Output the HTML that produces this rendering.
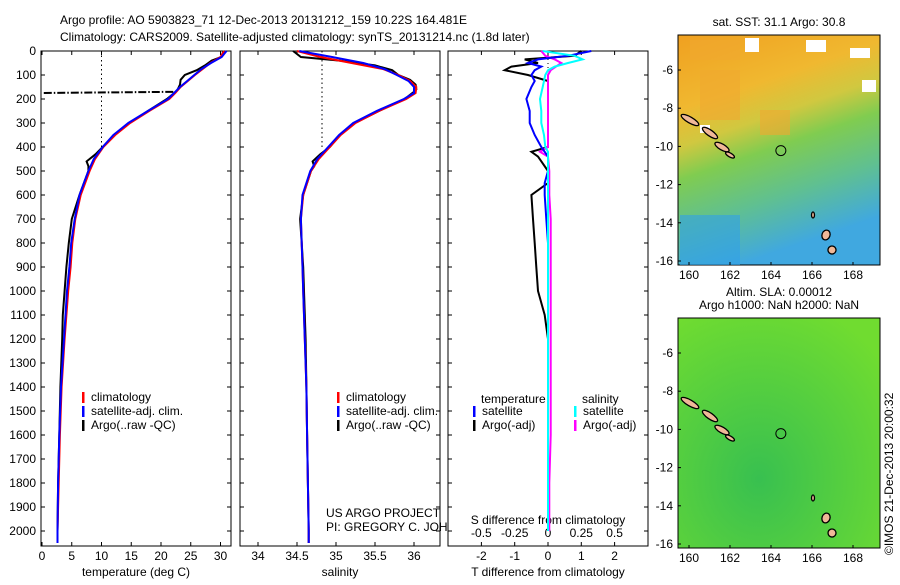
<!DOCTYPE html>
<html><head><meta charset="utf-8"><style>
body{margin:0;background:#fff;width:900px;height:580px;overflow:hidden}
svg text{font-family:"Liberation Sans",sans-serif;font-size:12px;fill:#000}
</style></head><body>
<svg id="fig" width="900" height="580" xmlns="http://www.w3.org/2000/svg">
<defs>
<linearGradient id="sstg" x1="0" y1="0" x2="0.3" y2="1">
<stop offset="0" stop-color="#f0a020"/><stop offset="0.3" stop-color="#f0b830"/><stop offset="0.45" stop-color="#d0c840"/>
<stop offset="0.58" stop-color="#80cc50"/><stop offset="0.78" stop-color="#60c090"/><stop offset="1" stop-color="#40a8e0"/></linearGradient>
<radialGradient id="slag" cx="0.4" cy="0.7" r="0.8"><stop offset="0" stop-color="#38c050"/><stop offset="1" stop-color="#70dc30"/></radialGradient>
</defs>
<text x="60" y="24">Argo profile: AO 5903823_71 12-Dec-2013 20131212_159 10.22S 164.481E</text>
<text x="60" y="41">Climatology: CARS2009. Satellite-adjusted climatology: synTS_20131214.nc (1.8d later)</text>
<g id="p1"></g>
<g id="p2"></g>
<g id="p3"></g>
<g id="maps"></g>
<text x="893" y="555" transform="rotate(-90 893 555)" font-size="11">©IMOS 21-Dec-2013 20:00:32</text>
</svg>
<script>
const NS="http://www.w3.org/2000/svg";
// ---- data ----
const depthClim=[0,25,50,75,100,125,150,175,200,250,300,350,400,450,500,600,700,800,900,1000,1200,1400,1600,1800,2000,2050];
const tempClim=[30.6,30,28.3,27,25.7,24.5,23.3,22.4,21.4,18,14.8,12.3,10.3,8.9,8.0,6.5,5.6,5.1,4.8,4.4,3.8,3.3,3.0,2.8,2.6,2.6];
const tempSat=[31,30.2,28.4,26.8,25.6,24.4,23.2,22.2,21.2,17.8,14.5,12.0,10.2,8.7,7.8,6.3,5.5,4.9,4.6,4.2,3.7,3.2,2.9,2.7,2.6,2.6];
const depthArgo=[0,25,40,60,80,100,120,140,160,170,175,180,200,250,300,350,400,430,460,480,500,600,700,800,900,1000,1100,1200,1400,1600,1800,2000,2050];
const tempArgo=[30.5,30.1,28.5,27.4,26,24,23.3,23.2,22.8,22.5,22.2,22,21,17.8,14.7,12.2,10.2,9,7.5,7.8,7.8,6.3,5,4.5,4.1,3.8,3.5,3.4,3.1,2.9,2.7,2.6,2.6];
const spikeDepth=175, spikeTemp=0.3;
const salClim=[34.5,34.8,35.2,35.6,35.8,35.95,36.03,36.02,35.9,35.55,35.25,35.06,34.92,34.78,34.68,34.58,34.55,34.56,34.57,34.58,34.6,34.62,34.63,34.64,34.65,34.65];
const salSat=[34.53,34.95,35.35,35.62,35.78,35.93,36.0,36.0,35.87,35.52,35.22,35.04,34.9,34.76,34.67,34.57,34.55,34.56,34.57,34.58,34.6,34.62,34.63,34.64,34.65,34.65];
const salArgo=[34.45,34.55,35.05,35.5,35.72,35.8,35.95,36.02,36.03,36.0,35.98,35.96,35.88,35.55,35.24,35.05,34.92,34.8,34.7,34.72,34.68,34.58,34.54,34.56,34.58,34.59,34.6,34.61,34.62,34.63,34.64,34.65,34.65];
const depthDiff=[0,20,35,50,65,80,100,125,150,200,250,300,350,400,420,440,500,550,600,700,800,900,1000,1100,1200,1400,1600,1800,2000];
const tDiffSat=[1.3,0.6,-0.3,-0.6,-0.2,-0.4,-0.5,-0.4,-0.5,-0.65,-0.55,-0.55,-0.4,-0.2,-0.1,0,0,-0.1,-0.1,-0.05,0,0,0,0,0,0,0,0,0];
const tDiffArgo=[1.0,0.8,-0.7,-0.3,-1.1,-1.3,-0.6,0,0,0,0,0,0,0,-0.5,-0.3,0,0,-0.5,-0.45,-0.4,-0.35,-0.3,-0.1,0,0,0,0,0];
const sDiffSat=[-0.04,0.2,0.26,0.15,0.05,0,-0.02,-0.03,-0.04,-0.06,-0.05,-0.05,-0.03,-0.02,0,0,0,0,0,0,0,0,0,0,0,0,0,0,0];
const sDiffArgo=[-0.05,-0.02,0.05,0.1,0.06,0.02,0,0,0,0,0,0,0,0,-0.06,0,0.01,0.01,0.01,0.02,0.02,0.02,0.02,0.02,0.02,0.02,0.02,0.01,0.01];
const depthTicks=[0,100,200,300,400,500,600,700,800,900,1000,1100,1200,1300,1400,1500,1600,1700,1800,1900,2000];
const tempTicks=[0,5,10,15,20,25,30];
const salTicks=[34,34.5,35,35.5,36];
const tDiffTicks=[-2,-1,0,1,2];
const sDiffTicks=[-0.5,-0.25,0,0.25,0.5];
const latTicks=[-6,-8,-10,-12,-14,-16];
const lonTicks=[160,162,164,166,168];
const floatLon=164.481, floatLat=-10.22;
// ---- helpers ----
const Y0=51,Y1=546;
const yD=d=>51+d*0.24;
function el(parent,tag,attrs){const e=document.createElementNS(NS,tag);for(const k in attrs)e.setAttribute(k,attrs[k]);parent.appendChild(e);return e;}
function txt(parent,x,y,s,anchor){const t=el(parent,'text',{x:x,y:y,'text-anchor':anchor||'start'});t.textContent=s;return t;}
function line(parent,xs,ys,xf,color,w,name){
  const pts=xs.map((v,i)=>xf(v).toFixed(1)+','+yD(ys[i]).toFixed(1)).join(' ');
  const p=el(parent,'polyline',{points:pts,fill:'none',stroke:color,'stroke-width':w});
  
  
  return p;}
function frame(g,x0,x1,withDepth){
  const r=el(g,'rect',{x:x0,y:Y0,width:x1-x0,height:Y1-Y0,fill:'#fff',stroke:'#000','stroke-width':1});
  
  
  depthTicks.forEach(d=>{el(g,'line',{x1:x0,x2:x0+4,y1:yD(d),y2:yD(d),stroke:'#000'});el(g,'line',{x1:x1,x2:x1-4,y1:yD(d),y2:yD(d),stroke:'#000'});
    if(withDepth){const t=txt(g,x0-5,yD(d)+4,String(d),'end');}});
}
function xticks(g,ticks,xf,y,labels){ticks.forEach((v,i)=>{el(g,'line',{x1:xf(v),x2:xf(v),y1:Y1,y2:Y1-4,stroke:'#000'});el(g,'line',{x1:xf(v),x2:xf(v),y1:Y0,y2:Y0+4,stroke:'#000'});
  if(labels){const t=txt(g,xf(v),y,labels[i],'middle');}});}
function legend(g,x,y,items){items.forEach((it,i)=>{el(g,'rect',{x:x,y:y+i*14-9,width:2.5,height:11,fill:it[1]});
  const t=txt(g,x+9,y+i*14,it[0]);});}
// ---- panel 1 ----
const p1=document.getElementById('p1');
const xT=v=>42+v*5.95;
frame(p1,41,231,true);
xticks(p1,tempTicks,xT,560,tempTicks.map(String));
txt(p1,136,576,'temperature (deg C)','middle');
el(p1,'line',{x1:xT(10),x2:xT(10),y1:yD(0),y2:yD(400),stroke:'#000','stroke-dasharray':'1.5,3'});
const spikeIdx=depthArgo.indexOf(spikeDepth);
el(p1,'line',{x1:xT(spikeTemp),y1:yD(spikeDepth),x2:xT(tempArgo[spikeIdx-1]),y2:yD(depthArgo[spikeIdx-1]),stroke:'#000','stroke-width':2,'stroke-dasharray':'8,2,1.5,2'});
line(p1,tempArgo,depthArgo,xT,'#000',2,'argo-temperature');
line(p1,tempClim,depthClim,xT,'#f00',2,'climatology-temperature');
line(p1,tempSat,depthClim,xT,'#00f',2,'satellite-temperature');
legend(p1,82,401,[['climatology','#f00'],['satellite-adj. clim.','#00f'],['Argo(..raw -QC)','#000']]);
// ---- panel 2 ----
const p2=document.getElementById('p2');
const xS=v=>258+(v-34)*78;
frame(p2,240,440,false);
xticks(p2,salTicks,xS,560,['34','34.5','35','35.5','36']);
txt(p2,340,576,'salinity','middle');
el(p2,'line',{x1:322,x2:322,y1:yD(0),y2:yD(400),stroke:'#000','stroke-dasharray':'1.5,3'});
line(p2,salArgo,depthArgo,xS,'#000',2,'argo-salinity');
line(p2,salClim,depthClim,xS,'#f00',2,'climatology-salinity');
line(p2,salSat,depthClim,xS,'#00f',2,'satellite-salinity');
legend(p2,337,401,[['climatology','#f00'],['satellite-adj. clim.','#00f'],['Argo(..raw -QC)','#000']]);
txt(p2,326,517,'US ARGO PROJECT');
txt(p2,326,531,'PI: GREGORY C. JOHNSON');
// ---- panel 3 ----
const p3=document.getElementById('p3');
const xDT=v=>548+v*33.3, xDS=v=>548+v*4*33.3;
frame(p3,448,648,false);
xticks(p3,tDiffTicks,xDT,560,tDiffTicks.map(String));
sDiffTicks.forEach(v=>{const t=txt(p3,xDS(v),537,String(v),'middle');});
txt(p3,548,576,'T difference from climatology','middle');
txt(p3,548,524,'S difference from climatology','middle');
el(p3,'line',{x1:548,x2:548,y1:yD(0),y2:yD(1100),stroke:'#000','stroke-dasharray':'1,3'});
line(p3,tDiffArgo,depthDiff,xDT,'#000',2,'argo-t-difference');
line(p3,sDiffArgo,depthDiff,xDS,'#f0f',2,'argo-s-difference');
line(p3,tDiffSat,depthDiff,xDT,'#00f',2,'satellite-t-difference');
line(p3,sDiffSat,depthDiff,xDS,'#0ff',2,'satellite-s-difference');
txt(p3,481,403,'temperature');
legend(p3,473,415,[['satellite','#00f'],['Argo(-adj)','#000']]);
txt(p3,582,403,'salinity');
legend(p3,574,415,[['satellite','#0ff'],['Argo(-adj)','#f0f']]);
// ---- maps ----
const mg=document.getElementById('maps');
function map(top,fill,title1,title2,name){
  const g=el(mg,'g',{});
  
  
  const x0=678,x1=880,y1=top+230;
  const lx=v=>689+(v-160)*20.5, ly=v=>top+35+(-6-v)*19.1;
  el(g,'rect',{x:x0,y:top,width:x1-x0,height:230,fill:fill,stroke:'#000'});
  if(name==='sst-map'){
    [[700,70,40,50],[760,110,30,25],[690,40,50,20]].forEach(r=>el(g,'rect',{x:r[0],y:r[1],width:r[2],height:r[3],fill:'#f0a830',opacity:0.6}));
    [[745,38,14,14],[806,40,20,12],[850,48,20,10],[862,80,14,12],[700,125,10,8]].forEach(r=>el(g,'rect',{x:r[0],y:r[1],width:r[2],height:r[3],fill:'#fff'}));
    el(g,'rect',{x:680,y:215,width:60,height:50,fill:'#30a0e8',opacity:0.6});}
  [[690,top+85,10,3,30],[710,top+98,9,3,35],[722,top+112,8,3,30],[730,top+120,5,2,30],[826,top+200,4,5,20],[832,top+215,4,4,20],[813,top+180,1.5,3,0]].forEach(r=>{
    el(g,'ellipse',{cx:r[0],cy:r[1],rx:r[2],ry:r[3],fill:'#f0b898',stroke:'#000','stroke-width':1.3,transform:'rotate('+r[4]+' '+r[0]+' '+r[1]+')'});});
  const c=el(g,'circle',{cx:lx(floatLon),cy:ly(floatLat),r:5,fill:'none',stroke:'#000','stroke-width':1});
  
  
  latTicks.forEach(v=>{el(g,'line',{x1:x0,x2:x0+3,y1:ly(v),y2:ly(v),stroke:'#000'});txt(g,x0-5,ly(v)+4,String(v),'end');});
  lonTicks.forEach(v=>{el(g,'line',{x1:lx(v),x2:lx(v),y1:y1,y2:y1-3,stroke:'#000'});txt(g,lx(v),y1+14,String(v),'middle');});
  const t1=txt(g,779,top-9+(title2?-13:0),title1,'middle');t1.setAttribute('font-size','11');
  if(title2){const t2=txt(g,779,top-9,title2,'middle');t2.setAttribute('font-size','11');}
}
map(35,'url(#sstg)','sat. SST: 31.1  Argo: 30.8',null,'sst-map');
map(318,'url(#slag)','Altim. SLA: 0.00012','Argo h1000: NaN h2000: NaN','sla-map');
</script>
</body></html>
